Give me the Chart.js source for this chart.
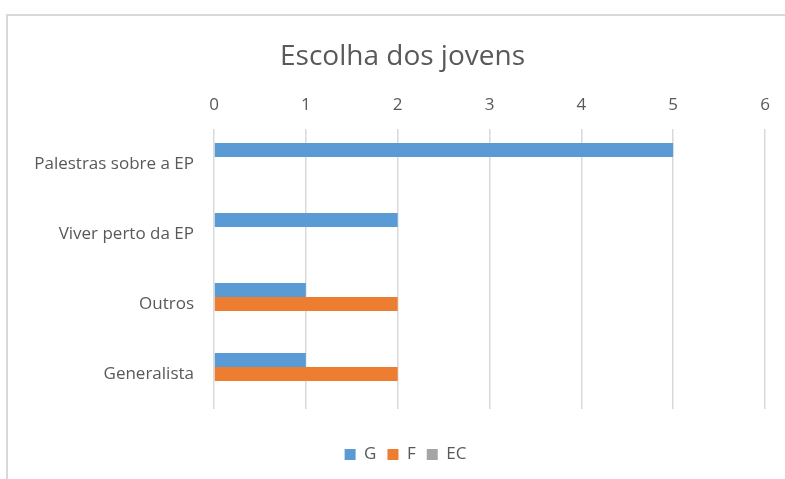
<!DOCTYPE html>
<html>
<head>
<meta charset="utf-8">
<script src="https://cdn.jsdelivr.net/npm/chart.js@4"></script>
<style>
  body { margin: 0; background: #fff; }
  #frame { position: absolute; left: 6px; top: 14px; width: 820px; height: 500px; border: 2px solid #d9d9d9; }
  #wrap { position: absolute; left: 0; top: 0; width: 785px; height: 479px; }
</style>
</head>
<body>
<div id="frame"></div>
<div id="wrap"><canvas id="my_chart" width="785" height="479"></canvas></div>
<script>
var categories = ["Palestras sobre a EP", "Viver perto da EP", "Outros", "Generalista"];
var valuesG = [5, 2, 1, 1];
var valuesF = [0, 0, 2, 2];
var valuesEC = [0, 0, 0, 0];
var xTicks = [0, 1, 2, 3, 4, 5, 6];

(function () {
    "use strict";
    var font = "'Open Sans', sans-serif";
    var grey = "#595959";

    // title and legend are centred on the whole frame, legend sits low
    var boxPlace = {
        id: "boxPlace",
        beforeInit: function (chart) {
            var fit = chart.legend.fit;
            chart.legend.fit = function () {
                fit.bind(chart.legend)();
                this.height = 70;
            };
        },
        afterLayout: function (chart) {
            chart.legend.top += 26;
            chart.legend.bottom += 26;
            chart.legend.left += 18;
            chart.legend.right += 18;
            chart.titleBlock.left += 15;
            chart.titleBlock.right += 15;
        },
    };

    var data = {
        labels: categories,
        datasets: [
            { label: "G", data: valuesG, backgroundColor: "#5b9bd5" },
            { label: "F", data: valuesF, backgroundColor: "#ed7d31" },
            { label: "EC", data: valuesEC, backgroundColor: "#a5a5a5" },
        ],
    };

    var options = {
        responsive: false,
        animation: false,
        indexAxis: "y",
        categoryPercentage: 0.6,
        barPercentage: 1,
        layout: { padding: { left: 10, right: 20, top: 40, bottom: 0 } },
        plugins: {
            title: {
                display: true,
                text: "Escolha dos jovens",
                color: grey,
                font: { family: font, size: 28, weight: "normal" },
                padding: { top: 0, bottom: 7 },
            },
            legend: {
                position: "bottom",
                labels: {
                    color: grey,
                    font: { family: font, size: 17 },
                    boxWidth: 11,
                    boxHeight: 11,
                    padding: 11,
                },
            },
            tooltip: { enabled: false },
        },
        scales: {
            x: {
                position: "top",
                min: xTicks[0],
                max: xTicks[xTicks.length - 1],
                ticks: { stepSize: 1, color: grey, font: { family: font, size: 17 }, padding: 14 },
                grid: { color: "#d9d9d9", lineWidth: 1.5, drawTicks: false },
                border: { display: false },
            },
            y: {
                ticks: { color: grey, font: { family: font, size: 17 }, padding: 12 },
                grid: { display: false },
                border: { display: false },
                afterFit: function (scale) { scale.width = 204; },
            },
        },
    };

    var ctx = document.getElementById("my_chart").getContext("2d");
    var myChart = new Chart(ctx, { type: "bar", data: data, options: options, plugins: [boxPlace] });
})();
</script>
</body>
</html>
